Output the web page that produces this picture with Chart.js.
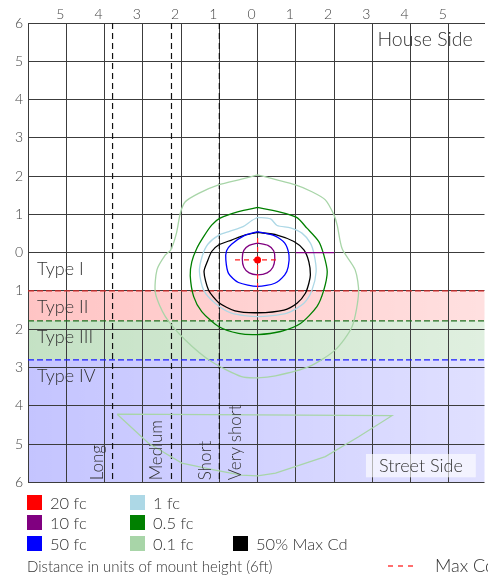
<!DOCTYPE html>
<html><head><meta charset="utf-8">
<script src="https://cdn.jsdelivr.net/npm/chart.js@4.4.1/dist/chart.umd.min.js"></script>
<style>
html,body{margin:0;padding:0;background:#fff;overflow:hidden;}
#wrap{position:relative;width:488px;height:577px;overflow:hidden;font-family:Lato,sans-serif;font-weight:300;color:#333;}
#c{position:absolute;left:0;top:0;}
.sw{position:absolute;width:15px;height:15px;}
.lt{position:absolute;font-size:16.5px;line-height:16px;white-space:nowrap;}
</style></head>
<body><div id="wrap"><canvas id="c" width="488" height="577"></canvas><div id="legend"></div></div>
<script>
// ===== DATA (units of mount height; + = house side, - = street side) =====
const xRange = [-6, 5.93];
const yRange = [-6, 6];
const contour10fc = [[0,0.25],[0.27,0.19],[0.42,0.05],[0.45,-0.16],[0.40,-0.38],[0.25,-0.53],[0,-0.58],[-0.22,-0.53],[-0.36,-0.38],[-0.40,-0.16],[-0.36,0.06],[-0.22,0.19],[0,0.25]];
const contour50fc = [[0,0.55],[0.45,0.44],[0.71,0.25],[0.82,-0.06],[0.80,-0.37],[0.71,-0.58],[0.45,-0.80],[0,-0.88],[-0.50,-0.78],[-0.76,-0.54],[-0.83,-0.19],[-0.81,0.05],[-0.68,0.22],[-0.36,0.44],[0,0.55]];
const contourHalfMaxCd = [[0,0.53],[0.51,0.46],[0.95,0.29],[1.21,0.07],[1.34,-0.24],[1.38,-0.58],[1.34,-0.80],[1.25,-1.06],[1.03,-1.32],[0.69,-1.50],[0,-1.57],[-0.59,-1.52],[-1.02,-1.30],[-1.28,-0.98],[-1.40,-0.5],[-1.30,-0.2],[-1.20,0.03],[-1.02,0.20],[-0.68,0.33],[-0.33,0.46],[0,0.53]];
const contour1fc = [[0,0.92],[0.34,0.88],[0.51,0.71],[0.86,0.65],[1.16,0.51],[1.38,0.25],[1.48,-0.06],[1.53,-0.5],[1.42,-0.98],[1.21,-1.32],[0.77,-1.58],[0,-1.67],[-0.68,-1.58],[-1.11,-1.32],[-1.41,-0.98],[-1.52,-0.5],[-1.45,-0.1],[-1.30,0.22],[-1.02,0.45],[-0.72,0.56],[-0.38,0.68],[-0.15,0.84],[0,0.92]];
const contour05fc = [[0,1.18],[0.54,1.07],[1.02,0.92],[1.29,0.64],[1.60,0.29],[1.73,-0.06],[1.82,-0.5],[1.73,-0.98],[1.55,-1.41],[1.12,-1.85],[0.60,-2.06],[0,-2.14],[-0.50,-2.11],[-1.02,-1.93],[-1.46,-1.54],[-1.67,-1.15],[-1.76,-0.6],[-1.72,-0.24],[-1.59,0.11],[-1.41,0.42],[-1.20,0.72],[-0.98,0.90],[-0.50,1.07],[0,1.18]];
const contour01fc = [[0,2.03],[0.99,1.77],[1.42,1.59],[1.77,1.38],[1.99,1.0],[2.08,0.72],[2.21,0.1],[2.55,-0.45],[2.64,-1.05],[2.47,-1.93],[2.03,-2.54],[1.34,-2.98],[0.47,-3.22],[0,-3.27],[-0.42,-3.24],[-1.2,-2.85],[-1.89,-2.28],[-2.41,-1.67],[-2.67,-1.06],[-2.63,-0.45],[-2.41,-0.06],[-2.27,0.07],[-2.12,0.51],[-2.02,1.03],[-1.89,1.33],[-1.54,1.55],[-1.02,1.77],[-0.42,1.92],[0,2.03]];
const contour01fcLobe = [[-3.67,-4.22],[3.51,-4.26],[2.64,-4.81],[1.77,-5.33],[0.47,-5.76],[0,-5.83],[-0.42,-5.81],[-1.11,-5.68],[-1.98,-5.5],[-2.85,-4.98],[-3.67,-4.22]];
const contour10fcStub = [[1,0],[2,0]];
const maxCdPoint = [[0,-0.19]];
const maxCdCrossH = [[-0.59,-0.19],[0.58,-0.19]];
const maxCdCrossV = [[0,0.38],[0,-0.95]];
const typeNames = ['Type I','Type II','Type III','Type IV'];
const typeEdges = [0,-1.0,-1.78,-2.8,-6];
const rangeNames = ['Very short','Short','Medium','Long'];
const rangeLines = [-1.0,-2.25,-3.79];
const legendNames = ['20 fc','10 fc','50 fc','1 fc','0.5 fc','0.1 fc','50% Max Cd'];
const axisTitle = 'Distance in units of mount height (6ft)';
const maxCdName = 'Max Cd';

// ===== STYLE =====
const FONT = 'Lato';
const legendColors = ['#ff0000','#800080','#0000ff','#add8e6','#008000','#a8d5a8','#000000'];
const bandRGB = [null,[255,0,0],[0,128,0],[0,0,255]];
const edgeColors = ['#d42a2a','#1e6e1e','#1a1aff'];

const pts = a => a.map(p => ({x:p[0], y:p[1]}));
const line = (label, data, color, width, extra) => Object.assign({
  label, data: pts(data), showLine:true, borderColor:color, backgroundColor:color,
  borderWidth:width, pointRadius:0, pointHoverRadius:0, tension:0.25, fill:false
}, extra || {});

const datasets = [
  line('Max Cd', maxCdPoint, '#ff0000', 0, {showLine:false, pointRadius:3.5, pointBackgroundColor:'#ff0000'}),
  line('Max Cd H', maxCdCrossH, '#ff2020', 1.2, {borderDash:[5,4], tension:0}),
  line('Max Cd V', maxCdCrossV, '#ff2020', 1.2, {borderDash:[5,4], tension:0}),
  line('10 fc', contour10fc, legendColors[1], 1.3),
  line('10 fc stub', contour10fcStub, legendColors[1], 1.3, {tension:0}),
  line('50 fc', contour50fc, legendColors[2], 1.3),
  line('50% Max Cd', contourHalfMaxCd, legendColors[6], 1.3),
  line('1 fc', contour1fc, legendColors[3], 1.3),
  line('0.5 fc', contour05fc, legendColors[4], 1.3),
  line('0.1 fc', contour01fc, legendColors[5], 1.3),
  line('0.1 fc b', contour01fcLobe, legendColors[5], 1.3, {tension:0}),
];
typeEdges.slice(1,4).forEach((e,i) => datasets.push(line('edge'+i, [[-6,e],[6,e]], edgeColors[i], 1.3, {borderDash:[6,3], tension:0})));
rangeLines.forEach((e,i) => datasets.push(line('range'+i, [[e,6],[e,-6]], '#111', 1.2, {borderDash:[6,4], tension:0})));

const bandsPlugin = {
  id:'bands',
  beforeDraw(chart){
    const {ctx, chartArea:a, scales:{y}} = chart;
    ctx.save();
    ctx.fillStyle = '#fff';
    ctx.fillRect(0,0,chart.width,chart.height);
    for (let i=1;i<4;i++){
      const t = y.getPixelForValue(typeEdges[i]), b = y.getPixelForValue(typeEdges[i+1]);
      const c = bandRGB[i];
      const g = ctx.createLinearGradient(a.left,0,a.right,0);
      g.addColorStop(0,`rgba(${c},0.23)`);
      g.addColorStop(1,`rgba(${c},0.12)`);
      ctx.fillStyle = g;
      ctx.fillRect(a.left,t,a.right-a.left,b-t);
    }
    ctx.restore();
  }
};
const textPlugin = {
  id:'texts',
  afterDraw(chart){
    const {ctx, chartArea:a, scales:{x,y}} = chart;
    ctx.save();
    ctx.fillStyle = '#333';
    ctx.font = `300 18px ${FONT}`;
    ctx.textBaseline = 'alphabetic';
    typeNames.forEach((n,i) => ctx.fillText(n, a.left+9, y.getPixelForValue(typeEdges[i])+22));
    // House side
    ctx.font = `300 19.5px ${FONT}`;
    ctx.fillText('House Side', x.getPixelForValue(3)+5, a.top+23);
    // Street side box
    ctx.font = `300 18px ${FONT}`;
    const w = ctx.measureText('Street Side').width;
    const bx1 = a.right-8.7, bx0 = bx1 - w - 26;
    ctx.fillStyle = 'rgba(255,255,255,0.62)';
    ctx.fillRect(bx0, a.bottom-28.3, bx1-bx0, 23.3);
    ctx.fillStyle = '#333';
    ctx.fillText('Street Side', bx0+13, a.bottom-10.6);
    // range labels (rotated)
    ctx.font = `300 17px ${FONT}`;
    const offs = [21.9,-8.6,-9.3,-9.8];
    rangeNames.forEach((n,i) => {
      const lx = x.getPixelForValue(rangeLines[Math.max(0,i-1)]) + offs[i];
      ctx.save();
      ctx.translate(lx, a.bottom-2);
      ctx.rotate(-Math.PI/2);
      ctx.fillText(n, 0, 0);
      ctx.restore();
    });
    ctx.restore();
  }
};

const gridColor = '#3c3c3c';
new Chart(document.getElementById('c'), {
  type:'scatter',
  data:{datasets},
  options:{
    responsive:false, maintainAspectRatio:false, devicePixelRatio:1, animation:false,
    layout:{padding:{left:0,top:0,right:0,bottom:94.7}},
    plugins:{legend:{display:false}, tooltip:{enabled:false}},
    events:[],
    scales:{
      x:{type:'linear', position:'top', min:xRange[0], max:xRange[1],
        afterFit(s){ s.height = 23; },
        grid:{color:gridColor, lineWidth:1, drawTicks:false},
        border:{color:gridColor},
        ticks:{stepSize:1, includeBounds:false, padding:0, labelOffset:-6, color:'#444', maxRotation:0,
          font:{family:FONT, size:14, weight:'300'},
          callback:v => v === xRange[0] ? '' : String(Math.abs(v))}},
      y:{type:'linear', min:yRange[0], max:yRange[1],
        afterFit(s){ s.width = 28; },
        grid:{color:gridColor, lineWidth:1, drawTicks:false},
        border:{color:gridColor},
        ticks:{stepSize:1, padding:5, color:'#444',
          font:{family:FONT, size:14, weight:'300'},
          callback:v => String(Math.abs(v))}}
    }
  },
  plugins:[bandsPlugin, textPlugin]
});

// ===== LEGEND (HTML) =====
const lg = document.getElementById('legend');
const colX = [27,130,233], rowY = [495,515,536];
const slots = [[0,0],[0,1],[0,2],[1,0],[1,1],[1,2],[2,2]];
legendNames.forEach((n,i) => {
  const [c,r] = slots[i];
  const sw = document.createElement('div'); sw.className='sw';
  sw.style.left = colX[c]+'px'; sw.style.top = rowY[r]+'px'; sw.style.background = legendColors[i];
  lg.appendChild(sw);
  const t = document.createElement('div'); t.className='lt'; t.textContent = n;
  t.style.left = (colX[c]+23)+'px'; t.style.top = (rowY[r]+0)+'px';
  lg.appendChild(t);
});
const at = document.createElement('div'); at.className='lt'; at.textContent = axisTitle;
at.style.left='27px'; at.style.top='558px'; at.style.fontSize='15px'; lg.appendChild(at);
const dash = document.createElementNS('http://www.w3.org/2000/svg','svg');
dash.setAttribute('width','30'); dash.setAttribute('height','4');
dash.style.position='absolute'; dash.style.left='388px'; dash.style.top='564px';
dash.innerHTML = '<line x1="0" y1="2" x2="26" y2="2" stroke="#ff4040" stroke-width="1.3" stroke-dasharray="5,5"/>';
lg.appendChild(dash);
const mc = document.createElement('div'); mc.className='lt'; mc.textContent = maxCdName;
mc.style.left='435px'; mc.style.top='557px'; mc.style.fontSize='18px'; lg.appendChild(mc);
</script>
</body></html>
